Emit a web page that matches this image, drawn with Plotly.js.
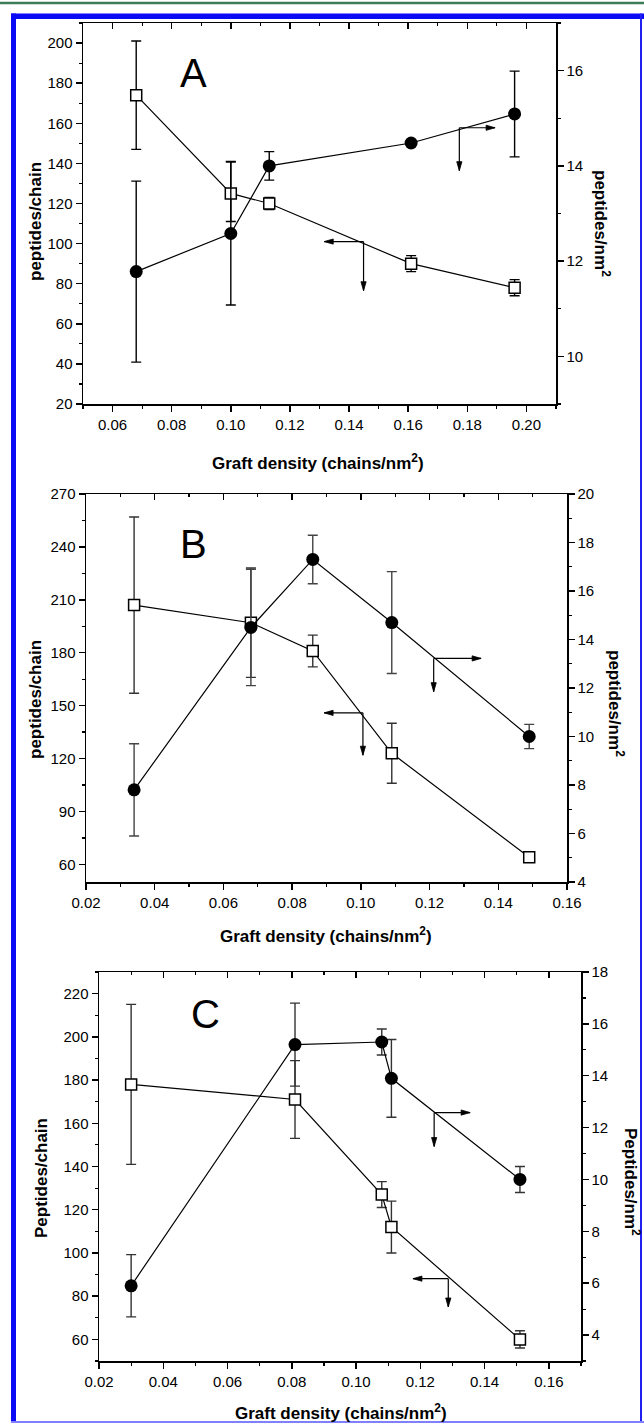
<!DOCTYPE html>
<html>
<head>
<meta charset="utf-8">
<script src="https://cdn.plot.ly/plotly-3.0.1.min.js"></script>
<style>
html,body{margin:0;padding:0;background:#fff;}
#chart{width:644px;height:1423px;}
</style>
</head>
<body>
<div id="chart"></div>
<script>
// ---------------- DATA ----------------
// Panel A
const xA = [0.068, 0.100, 0.113, 0.161, 0.196];
const chainA = [174, 125, 120, 90, 78];
const chainErrPlusA = [27, 16, 3, 4, 4];
const chainErrMinusA = [27, 14, 3, 4, 4];
const nmA = [11.78, 12.58, 14.0, 14.48, 15.09];
const nmErrA = [1.9, 1.5, 0.3, 0, 0.9];

// Panel B
const xB = [0.034, 0.068, 0.086, 0.109, 0.149];
const chainB = [207, 197, 181, 123, 64];
const chainErrB = [50, 31, 9, 17, 0];
const nmB = [7.8, 14.5, 17.3, 14.7, 10.0];
const nmErrB = [1.9, 2.4, 1.0, 2.1, 0.5];

// Panel C
const xC = [0.030, 0.081, 0.108, 0.111, 0.151];
const chainC = [178, 171, 127, 112, 60];
const chainErrC = [37, 18, 6, 12, 4];
const nmC = [5.9, 15.2, 15.3, 13.9, 10.0];
const nmErrC = [1.2, 1.6, 0.5, 1.5, 0.5];

// Labels
const panelLabels = ['A', 'B', 'C'];
const xTitle = 'Graft density (chains/nm<sup>2</sup>)';
const leftTitles = ['peptides/chain', 'peptides/chain', 'Peptides/chain'];
const rightTitles = ['peptides/nm<sup>2</sup>', 'peptides/nm<sup>2</sup>', 'Peptides/nm<sup>2</sup>'];

// ---------------- LAYOUT HELPERS ----------------
const W = 644, H = 1423;
const FONT = '"Liberation Sans", Arial, sans-serif';
const px = v => v / W;
const py = v => 1 - v / H;

// panel frames in pixels [left, right, top, bottom]
const frames = [
  [83, 556, 23, 404],
  [86, 567, 494, 882],
  [99, 581, 972, 1361]
];
const xRanges = [[0.05, 0.21], [0.02, 0.16], [0.02, 0.17]];
const yLeftRanges = [[20, 210], [50, 270], [50, 230]];
const yLeftDtick = [20, 30, 20];
const yRightRanges = [[9, 17], [4, 20], [3, 18]];

const tickFont = {family: FONT, size: 15, color: '#000'};
const common = {
  showline: true, linewidth: 1.5, linecolor: '#000', showgrid: false, zeroline: false,
  tickfont: tickFont, tickcolor: '#000', tickwidth: 1.5, ticklen: 6, fixedrange: true
};

function xAxis(i, anchor) {
  const f = frames[i];
  return Object.assign({}, common, {
    domain: [px(f[0]), px(f[1])], range: xRanges[i], anchor: anchor,
    tick0: 0, dtick: 0.02, tickformat: '.2f', ticks: 'outside',
    minor: {dtick: 0.01, ticks: 'outside', ticklen: 3, tickwidth: 1.2, tickcolor: '#000', showgrid: false}
  });
}
function xTopAxis(i, base, anchor) {
  return Object.assign({}, common, {
    overlaying: base, side: 'top', anchor: anchor, range: xRanges[i],
    tick0: 0, dtick: 0.02, ticks: 'inside', showticklabels: false,
    minor: {dtick: 0.01, ticks: 'inside', ticklen: 3, tickwidth: 1.2, tickcolor: '#000', showgrid: false}
  });
}
function yLeft(i, anchor) {
  const f = frames[i];
  return Object.assign({}, common, {
    domain: [py(f[3]), py(f[2])], range: yLeftRanges[i], anchor: anchor,
    tick0: 0, dtick: yLeftDtick[i], ticks: 'outside',
    minor: {dtick: yLeftDtick[i] / 2, ticks: 'outside', ticklen: 3, tickwidth: 1.2, tickcolor: '#000', showgrid: false}
  });
}
function yRight(i, base, anchor) {
  return Object.assign({}, common, {
    overlaying: base, side: 'right', anchor: anchor, range: yRightRanges[i],
    tick0: 0, dtick: 2, ticks: 'outside',
    minor: {dtick: 1, ticks: 'outside', ticklen: 3, tickwidth: 1.2, tickcolor: '#000', showgrid: false}
  });
}

// ---------------- TRACES ----------------
function squareTrace(x, y, ep, em, xa, ya, errColor) {
  return {
    type: 'scatter', mode: 'lines+markers', x: x, y: y, xaxis: xa, yaxis: ya,
    line: {color: '#000', width: 1.2},
    marker: {symbol: 'square', size: 11, color: '#fff', line: {color: '#000', width: 1.5}},
    error_y: {type: 'data', symmetric: false, array: ep, arrayminus: em, color: errColor, thickness: 1.4, width: 5},
    showlegend: false, hoverinfo: 'x+y'
  };
}
function circleTrace(x, y, e, xa, ya, errColor) {
  return {
    type: 'scatter', mode: 'lines+markers', x: x, y: y, xaxis: xa, yaxis: ya,
    line: {color: '#000', width: 1.2},
    marker: {symbol: 'circle', size: 13, color: '#000'},
    error_y: {type: 'data', array: e, color: errColor, thickness: 1.4, width: 5},
    showlegend: false, hoverinfo: 'x+y'
  };
}
const dummy = (xa, ya) => ({type: 'scatter', mode: 'markers', x: [], y: [], xaxis: xa, yaxis: ya, showlegend: false, hoverinfo: 'skip'});

const traces = [
  squareTrace(xA, chainA, chainErrPlusA, chainErrMinusA, 'x', 'y', '#000'),
  circleTrace(xA, nmA, nmErrA, 'x', 'y2', '#000'),
  squareTrace(xB, chainB, chainErrB, chainErrB, 'x2', 'y3', '#333'),
  circleTrace(xB, nmB, nmErrB, 'x2', 'y4', '#444'),
  squareTrace(xC, chainC, chainErrC, chainErrC, 'x3', 'y5', '#333'),
  circleTrace(xC, nmC, nmErrC, 'x3', 'y6', '#333'),
  dummy('x4', 'y'), dummy('x5', 'y3'), dummy('x6', 'y5')
];

// ---------------- ANNOTATIONS ----------------
const annotations = [];
function txt(text, x, y, size, angle) {
  annotations.push({xref: 'paper', yref: 'paper', x: px(x), y: py(y), xanchor: 'center', yanchor: 'middle',
    text: text, showarrow: false, textangle: angle || 0, font: {family: FONT, size: size, color: '#000'}});
}
// panel letters
txt(panelLabels[0], 193, 73, 40);
txt(panelLabels[1], 193, 544, 40);
txt(panelLabels[2], 205, 1014, 40);
// axis titles
const titlePos = [
  {l: [35, 222], r: [602, 223], b: [318, 462]},
  {l: [35, 700], r: [616, 703], b: [326, 935]},
  {l: [41, 1178], r: [632, 1182], b: [341, 1412]}
];
titlePos.forEach((p, i) => {
  txt('<b>' + leftTitles[i] + '</b>', p.l[0], p.l[1], 17, -90);
  txt('<b>' + rightTitles[i] + '</b>', p.r[0], p.r[1], 17, 90);
  txt('<b>' + xTitle + '</b>', p.b[0], p.b[1], 17, 0);
});

// ---------------- SHAPES ----------------
const shapes = [
  {type: 'line', xref: 'paper', yref: 'paper', x0: 0, x1: 1, y0: py(3), y1: py(3), line: {color: '#3c7c57', width: 2.5}},
  {type: 'line', xref: 'paper', yref: 'paper', x0: px(11), x1: 1, y0: py(16.2), y1: py(16.2), line: {color: '#0a0af5', width: 5.5}},
  {type: 'line', xref: 'paper', yref: 'paper', x0: px(13.5), x1: px(13.5), y0: py(13.5), y1: 0, line: {color: '#0a0af5', width: 5}},
  {type: 'line', xref: 'paper', yref: 'paper', x0: px(641), x1: px(641), y0: py(13.5), y1: 0, line: {color: '#2020f0', width: 2}},
  {type: 'line', xref: 'paper', yref: 'paper', x0: px(11), x1: 1, y0: py(1422), y1: py(1422), line: {color: '#8080ff', width: 2}}
];

// axis-indicator arrows: origin (ox, oy), horizontal head at hx, vertical head at vy (data coordinates)
const indicators = [
  {xa: 'x', ya: 'y2', ox: 0.1773, oy: 14.8, hx: 0.1894, vy: 13.9},
  {xa: 'x', ya: 'y', ox: 0.1449, oy: 101, hx: 0.1316, vy: 76.5},
  {xa: 'x2', ya: 'y4', ox: 0.1212, oy: 13.22, hx: 0.135, vy: 11.85},
  {xa: 'x2', ya: 'y3', ox: 0.1006, oy: 145.9, hx: 0.0893, vy: 121.9},
  {xa: 'x3', ya: 'y6', ox: 0.1243, oy: 12.58, hx: 0.1355, vy: 11.27},
  {xa: 'x3', ya: 'y5', ox: 0.1287, oy: 88.1, hx: 0.1177, vy: 75}
];
const HEAD_L = 9, HEAD_W = 2.6;
indicators.forEach(a => {
  const ln = {color: '#000', width: 1.2};
  shapes.push({type: 'line', xref: a.xa, yref: a.ya, x0: a.ox, x1: a.hx, y0: a.oy, y1: a.oy, line: ln});
  shapes.push({type: 'line', xref: a.xa, yref: a.ya, x0: a.ox, x1: a.ox, y0: a.oy, y1: a.vy, line: ln});
  const dir = a.hx > a.ox ? 1 : -1;
  shapes.push({type: 'path', xref: a.xa, yref: a.ya, xsizemode: 'pixel', ysizemode: 'pixel',
    xanchor: a.hx, yanchor: a.oy,
    path: `M0,0 L${-dir * HEAD_L},${HEAD_W} L${-dir * HEAD_L},${-HEAD_W} Z`,
    fillcolor: '#000', line: {color: '#000', width: 0.8}});
  shapes.push({type: 'path', xref: a.xa, yref: a.ya, xsizemode: 'pixel', ysizemode: 'pixel',
    xanchor: a.ox, yanchor: a.vy,
    path: `M0,0 L${HEAD_W},${HEAD_L} L${-HEAD_W},${HEAD_L} Z`,
    fillcolor: '#000', line: {color: '#000', width: 0.8}});
});

const layout = {
  width: W, height: H, margin: {l: 0, r: 0, t: 0, b: 0},
  paper_bgcolor: '#fff', plot_bgcolor: 'rgba(0,0,0,0)', showlegend: false,
  font: {family: FONT, color: '#000'},
  xaxis: xAxis(0, 'y'), yaxis: yLeft(0, 'x'), yaxis2: yRight(0, 'y', 'x'), xaxis4: xTopAxis(0, 'x', 'y'),
  xaxis2: xAxis(1, 'y3'), yaxis3: yLeft(1, 'x2'), yaxis4: yRight(1, 'y3', 'x2'), xaxis5: xTopAxis(1, 'x2', 'y3'),
  xaxis3: xAxis(2, 'y5'), yaxis5: yLeft(2, 'x3'), yaxis6: yRight(2, 'y5', 'x3'), xaxis6: xTopAxis(2, 'x3', 'y5'),
  annotations: annotations, shapes: shapes
};

Plotly.newPlot('chart', traces, layout, {displayModeBar: false, staticPlot: true});
</script>
</body>
</html>
